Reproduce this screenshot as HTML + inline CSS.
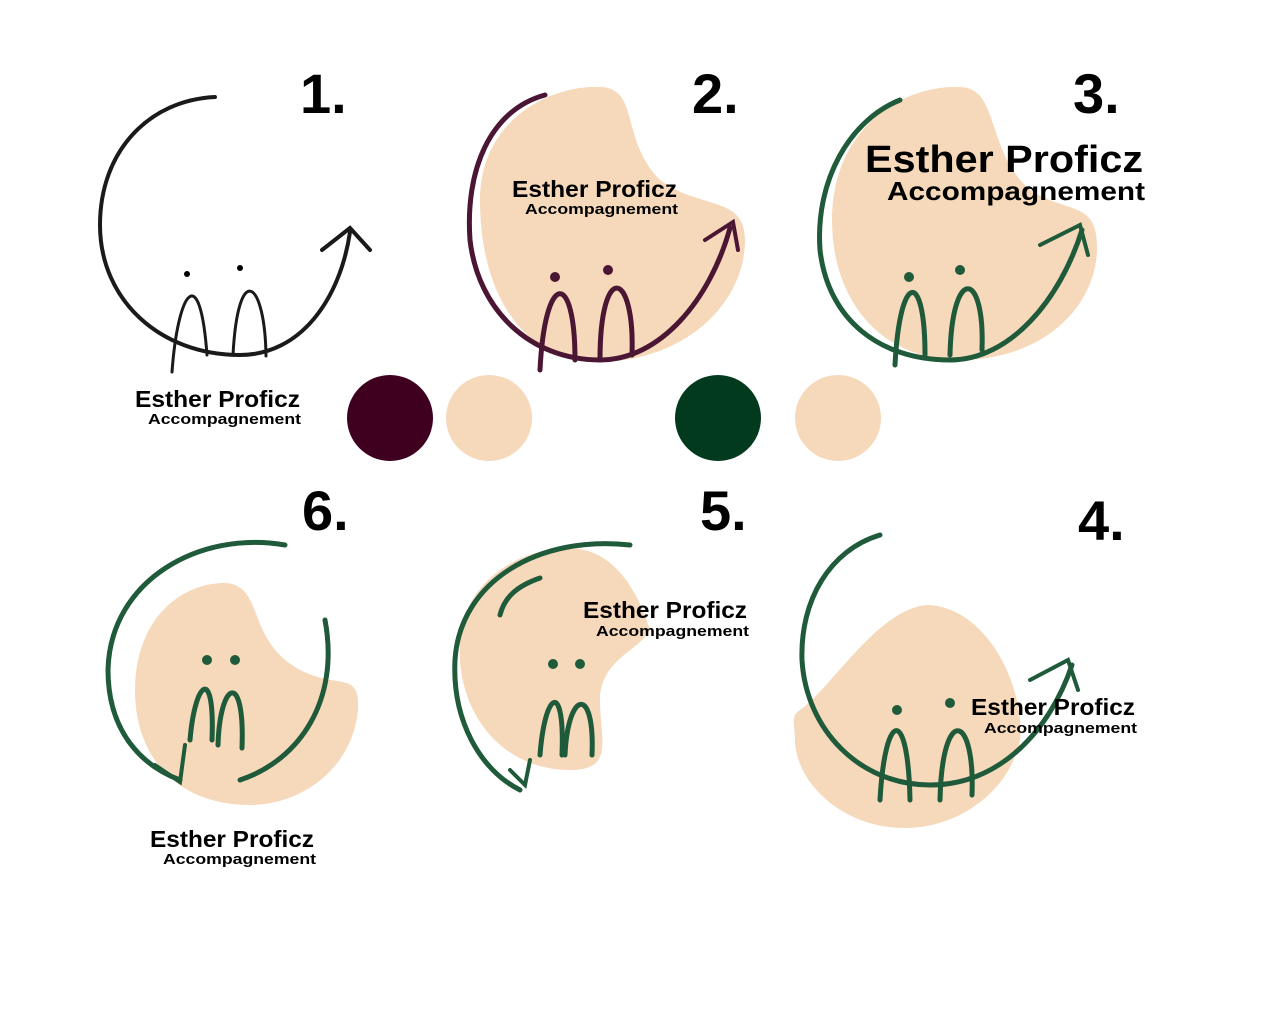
<!DOCTYPE html>
<html><head><meta charset="utf-8"><style>
html,body{margin:0;padding:0;background:#fff}
svg{display:block}
text{font-family:"Liberation Sans",sans-serif}
.n{font-weight:bold;font-size:56px;fill:#000}
.t{font-size:23px;fill:#000;font-weight:bold}
.a{font-size:15px;fill:#000;font-weight:bold}
</style></head><body>
<svg width="1281" height="1025" viewBox="0 0 1281 1025" xmlns="http://www.w3.org/2000/svg">
<rect width="1281" height="1025" fill="#fff"/>
<text class="n" x="300" y="113">1.</text>
<text class="n" x="692" y="113">2.</text>
<text class="n" x="1073" y="113">3.</text>
<text class="n" x="302" y="530">6.</text>
<text class="n" x="700" y="530">5.</text>
<text class="n" x="1078" y="540">4.</text>

<!-- Logo 1 -->
<g fill="none" stroke="#1a1a1a" stroke-width="4" stroke-linecap="round">
<path d="M215 97 C150 100 100 150 100 225 C100 300 160 355 240 355 C300 355 340 300 350 232"/>
<path d="M322 250 L350 228 L370 250"/>
<path d="M172 372 C178 290 200 260 207 355" stroke-width="3"/>
<path d="M233 355 C238 260 265 280 266 356" stroke-width="3"/>
</g>
<circle cx="187" cy="274" r="3" fill="#000"/><circle cx="240" cy="268" r="3" fill="#000"/>
<text class="t" x="135" y="407" textLength="165" lengthAdjust="spacingAndGlyphs">Esther Proficz</text>
<text class="a" x="148" y="424" textLength="153" lengthAdjust="spacingAndGlyphs">Accompagnement</text>

<!-- Logo 2 -->
<path d="M480 200 C480 120 550 85 600 87 C640 88 620 140 660 180 C700 210 745 195 745 240 C745 300 690 360 600 362 C520 362 480 290 480 200Z" fill="#F5D9BA"/>
<g fill="none" stroke="#4A1633" stroke-width="5" stroke-linecap="round">
<path d="M545 95 C490 110 465 170 470 240 C478 310 530 360 600 360 C660 360 710 300 730 228"/>
<path d="M705 240 L733 222 L738 250" stroke-width="4"/>
<path d="M540 370 C545 270 575 270 575 360"/>
<path d="M600 360 C600 260 635 270 632 355"/>
</g>
<circle cx="555" cy="277" r="5" fill="#4A1633"/><circle cx="608" cy="270" r="5" fill="#4A1633"/>
<text class="t" x="512" y="197" textLength="165" lengthAdjust="spacingAndGlyphs">Esther Proficz</text>
<text class="a" x="525" y="214" textLength="153" lengthAdjust="spacingAndGlyphs">Accompagnement</text>

<!-- Logo 3 -->
<path d="M832 220 C832 130 900 85 960 87 C1000 88 985 150 1030 190 C1070 215 1098 200 1097 250 C1095 310 1040 360 960 360 C880 360 832 300 832 220Z" fill="#F5D9BA"/>
<g fill="none" stroke="#1F5A3A" stroke-width="5" stroke-linecap="round">
<path d="M900 100 C850 120 815 180 820 250 C828 320 880 360 950 360 C1010 360 1060 300 1082 230"/>
<path d="M1040 245 L1080 225 L1088 255" stroke-width="4"/>
<path d="M895 365 C900 270 925 270 925 355"/>
<path d="M950 355 C952 265 985 270 982 350"/>
</g>
<circle cx="909" cy="277" r="5" fill="#1F5A3A"/><circle cx="960" cy="270" r="5" fill="#1F5A3A"/>
<text x="865" y="172" textLength="278" lengthAdjust="spacingAndGlyphs" style="font-size:38px;fill:#000;font-weight:bold">Esther Proficz</text>
<text x="887" y="200" textLength="258" lengthAdjust="spacingAndGlyphs" style="font-size:26px;fill:#000;font-weight:bold">Accompagnement</text>

<circle cx="390" cy="418" r="43" fill="#3F0020"/>
<circle cx="489" cy="418" r="43" fill="#F5D9BA"/>
<circle cx="718" cy="418" r="43" fill="#023A1E"/>
<circle cx="838" cy="418" r="43" fill="#F5D9BA"/>

<!-- Logo 6 -->
<path d="M135 690 C135 620 180 583 225 583 C265 585 245 640 300 670 C340 690 360 670 358 710 C352 770 300 805 250 805 C180 805 135 760 135 690Z" fill="#F5D9BA"/>
<g fill="none" stroke="#1F5A3A" stroke-width="5" stroke-linecap="round">
<path d="M285 545 C200 530 110 580 108 670 C108 730 140 765 180 780"/>
<path d="M325 620 C340 700 300 760 240 780"/>
<path d="M155 765 L180 782 L185 745" stroke-width="4"/>
<path d="M190 740 C195 680 215 665 212 740"/>
<path d="M218 745 C220 680 245 670 242 748"/>
</g>
<circle cx="207" cy="660" r="5" fill="#1F5A3A"/><circle cx="235" cy="660" r="5" fill="#1F5A3A"/>
<text class="t" x="150" y="847" textLength="164" lengthAdjust="spacingAndGlyphs">Esther Proficz</text>
<text class="a" x="163" y="864" textLength="153" lengthAdjust="spacingAndGlyphs">Accompagnement</text>

<!-- Logo 5 -->
<path d="M460 640 C465 580 520 548 570 548 C620 550 640 600 650 630 C640 650 600 660 600 700 C600 740 615 770 570 770 C500 770 455 710 460 640Z" fill="#F5D9BA"/>
<g fill="none" stroke="#1F5A3A" stroke-width="5" stroke-linecap="round">
<path d="M630 545 C540 535 460 580 455 660 C452 720 480 770 520 790"/>
<path d="M500 615 C505 595 520 585 540 578"/>
<path d="M510 770 L525 785 L530 760" stroke-width="4"/>
<path d="M540 755 C545 690 565 680 562 755"/>
<path d="M565 755 C568 690 595 685 592 755"/>
</g>
<circle cx="553" cy="664" r="5" fill="#1F5A3A"/><circle cx="580" cy="664" r="5" fill="#1F5A3A"/>
<text class="t" x="583" y="618" textLength="164" lengthAdjust="spacingAndGlyphs">Esther Proficz</text>
<text class="a" x="596" y="636" textLength="153" lengthAdjust="spacingAndGlyphs">Accompagnement</text>

<!-- Logo 4 -->
<path d="M800 710 C830 690 880 605 930 605 C990 610 1025 690 1020 740 C1010 790 960 828 905 828 C840 828 795 780 795 740 C795 725 790 716 800 710Z" fill="#F5D9BA"/>
<g fill="none" stroke="#1F5A3A" stroke-width="5" stroke-linecap="round">
<path d="M880 535 C830 550 800 600 802 660 C806 730 860 785 930 785 C1000 785 1050 730 1072 665"/>
<path d="M1030 680 L1068 660 L1078 690" stroke-width="4"/>
<path d="M880 800 C885 710 908 705 910 800"/>
<path d="M940 800 C942 705 975 712 972 795"/>
</g>
<circle cx="897" cy="710" r="5" fill="#1F5A3A"/><circle cx="950" cy="703" r="5" fill="#1F5A3A"/>
<text class="t" x="971" y="715" textLength="164" lengthAdjust="spacingAndGlyphs">Esther Proficz</text>
<text class="a" x="984" y="733" textLength="153" lengthAdjust="spacingAndGlyphs">Accompagnement</text>
</svg>
</body></html>
